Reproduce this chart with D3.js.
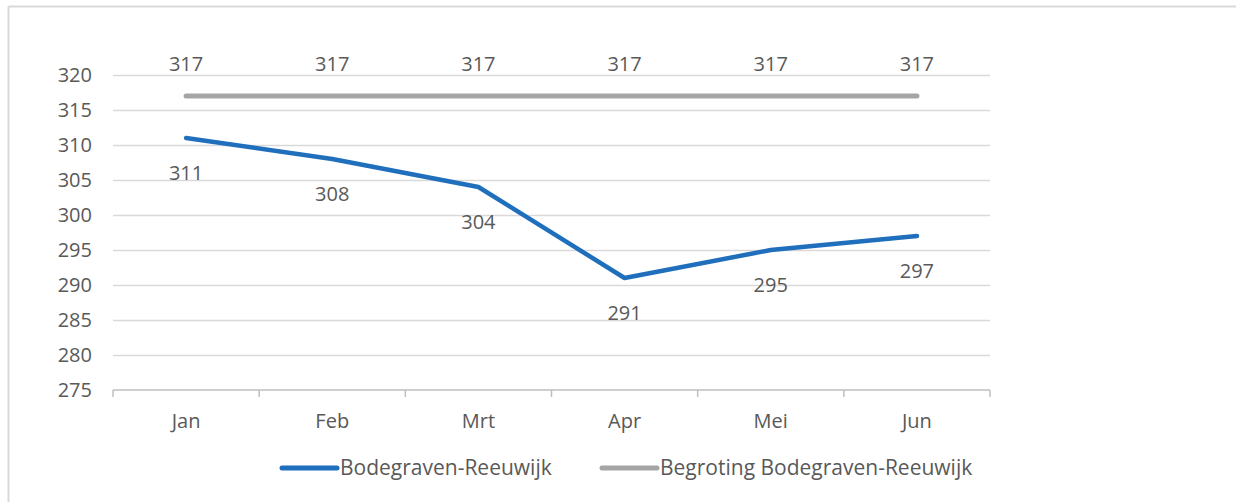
<!DOCTYPE html>
<html>
<head>
<meta charset="utf-8">
<script src="https://cdn.jsdelivr.net/npm/d3@7/dist/d3.min.js"></script>
<style>
  body { margin: 0; background: #fff; }
  svg text { font-family: "Open Sans", "Noto Sans", sans-serif; fill: #595959; font-size: 20px; }
  .grid line { stroke: #d9d9d9; stroke-width: 1.5; }
  .grid path { display: none; }
</style>
</head>
<body>
<div id="chart"></div>
<script>
var months = ['Jan', 'Feb', 'Mrt', 'Apr', 'Mei', 'Jun'];
var actual = [311, 308, 304, 291, 295, 297];
var budget = [317, 317, 317, 317, 317, 317];
var yTicks = [275, 280, 285, 290, 295, 300, 305, 310, 315, 320];
var seriesNames = ['Bodegraven-Reeuwijk', 'Begroting Bodegraven-Reeuwijk'];

var W = 1236, H = 502;
var svg = d3.select('#chart').append('svg').attr('width', W).attr('height', H);

// outer frame (only top and left edges visible)
svg.append('line').attr('x1', 8.5).attr('y1', 6.5).attr('x2', W).attr('y2', 6.5).attr('stroke', '#d9d9d9').attr('stroke-width', 2);
svg.append('line').attr('x1', 8.5).attr('y1', 6.5).attr('x2', 8.5).attr('y2', H).attr('stroke', '#d9d9d9').attr('stroke-width', 2);

var x = d3.scaleBand().domain(months).range([113, 990]);
var y = d3.scaleLinear().domain([275, 320]).range([390, 75]);
var cx = function(d) { return x(d) + x.bandwidth() / 2; };

// gridlines
svg.append('g').attr('class', 'grid')
  .attr('transform', 'translate(113,0)')
  .call(d3.axisRight(y).tickValues(yTicks.slice(1)).tickSize(990 - 113).tickFormat(''));

// y labels
svg.append('g').selectAll('text').data(yTicks).enter().append('text')
  .attr('x', 92).attr('y', function(d) { return y(d); }).attr('dy', '0.35em')
  .attr('text-anchor', 'end').text(function(d) { return d; });

// x axis
var xAxis = svg.append('g').attr('transform', 'translate(0,390)');
xAxis.append('line').attr('x1', 113).attr('x2', 990).attr('y1', 0).attr('y2', 0).attr('stroke', '#bfbfbf').attr('stroke-width', 1.5);
xAxis.selectAll('line.tick').data(months.concat(['end'])).enter().append('line')
  .attr('class', 'tick')
  .attr('x1', function(d, i) { return i < months.length ? x(d) : x.range()[1]; })
  .attr('x2', function(d, i) { return i < months.length ? x(d) : x.range()[1]; })
  .attr('y1', 0).attr('y2', 7).attr('stroke', '#bfbfbf').attr('stroke-width', 1.5);
xAxis.selectAll('text').data(months).enter().append('text')
  .attr('x', cx).attr('y', 31).attr('dy', '0.35em').attr('text-anchor', 'middle')
  .text(function(d) { return d; });

var line = d3.line().x(function(d, i) { return cx(months[i]); }).y(function(d) { return y(d); });

svg.append('path').datum(budget).attr('d', line).attr('fill', 'none')
  .attr('stroke', '#a5a5a5').attr('stroke-width', 5).attr('stroke-linecap', 'round');
svg.append('path').datum(actual).attr('d', line).attr('fill', 'none')
  .attr('stroke', '#1f6fbc').attr('stroke-width', 4.5).attr('stroke-linecap', 'round').attr('stroke-linejoin', 'round');

// data labels
svg.append('g').selectAll('text').data(budget).enter().append('text')
  .attr('x', function(d, i) { return cx(months[i]); }).attr('y', function(d) { return y(d) - 32; })
  .attr('dy', '0.35em').attr('text-anchor', 'middle')
  .text(function(d) { return d; });
svg.append('g').selectAll('text').data(actual).enter().append('text')
  .attr('x', function(d, i) { return cx(months[i]); }).attr('y', function(d) { return y(d) + 35; })
  .attr('dy', '0.35em').attr('text-anchor', 'middle')
  .text(function(d) { return d; });

// legend
var legend = [
  { name: seriesNames[0], color: '#1f6fbc', x: 282 },
  { name: seriesNames[1], color: '#a5a5a5', x: 602 }
];
var lg = svg.append('g').selectAll('g').data(legend).enter().append('g')
  .attr('transform', function(d) { return 'translate(' + d.x + ',468)'; });
lg.append('line').attr('x1', 0).attr('x2', 55).attr('stroke', function(d) { return d.color; })
  .attr('stroke-width', 5).attr('stroke-linecap', 'round');
lg.append('text').attr('x', 58).attr('dy', '0.35em').style('font-size', '21px')
  .text(function(d) { return d.name; });
</script>
</body>
</html>
